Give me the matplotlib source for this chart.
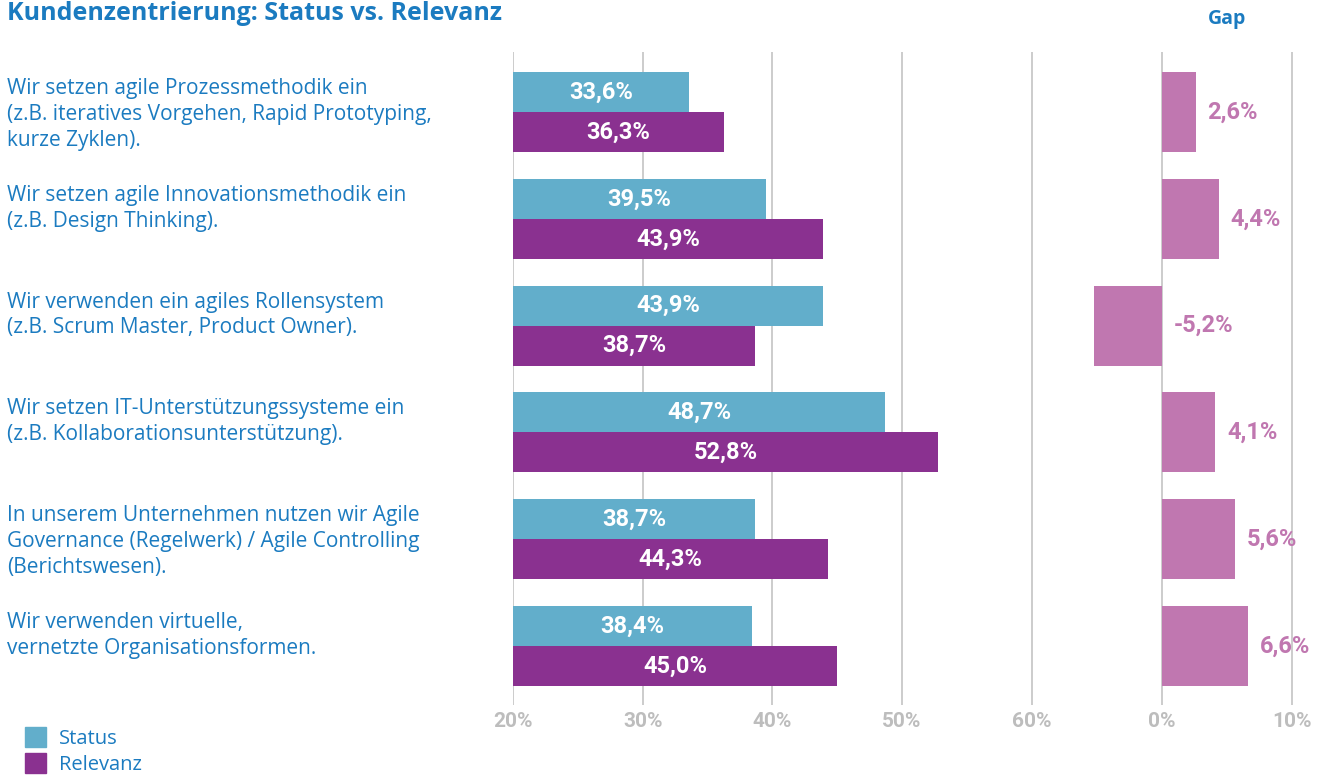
import matplotlib
matplotlib.use("Agg")
import matplotlib.pyplot as plt
from matplotlib.patches import Rectangle

plt.rcParams['font.family'] = ['Open Sans', 'DejaVu Sans']
NUM_FONT = ['Roboto', 'DejaVu Sans']

# --- data ---------------------------------------------------------------
categories = [
    "Wir setzen agile Prozessmethodik ein\n(z.B. iteratives Vorgehen, Rapid Prototyping,\nkurze Zyklen).",
    "Wir setzen agile Innovationsmethodik ein\n(z.B. Design Thinking).",
    "Wir verwenden ein agiles Rollensystem\n(z.B. Scrum Master, Product Owner).",
    "Wir setzen IT-Unterstützungssysteme ein\n(z.B. Kollaborationsunterstützung).",
    "In unserem Unternehmen nutzen wir Agile\nGovernance (Regelwerk) / Agile Controlling\n(Berichtswesen).",
    "Wir verwenden virtuelle,\nvernetzte Organisationsformen.",
]
status = [33.6, 39.5, 43.9, 48.7, 38.7, 38.4]
relevanz = [36.3, 43.9, 38.7, 52.8, 44.3, 45.0]
gap = [2.6, 4.4, -5.2, 4.1, 5.6, 6.6]
main_ticks = [20, 30, 40, 50, 60]
gap_ticks = [0, 10]

# --- styling ------------------------------------------------------------
C_STATUS = "#62AECB"
C_REL = "#8A3190"
C_GAP = "#C077B0"
C_TEXT = "#1B7BC0"
C_GRID = "#C8C8C8"
C_TICK = "#BDBDBD"

W, H = 1325, 776
fig = plt.figure(figsize=(W / 100, H / 100), dpi=100)


def fx(px):
    return px / W


def fy(py):
    return 1 - py / H


top_px, bot_px = 52, 705
ylim = (5.552, -0.562)
bar_h = 0.375


def fmt(v):
    return f"{v:.1f}".replace(".", ",") + "%"


# main comparison axis
ax = fig.add_axes([fx(513), fy(bot_px), fx(1038 - 513), (bot_px - top_px) / H])
ax.set_xlim(20, 60.5)
ax.set_ylim(*ylim)
ys = list(range(len(categories)))
ax.barh([y - bar_h / 2 for y in ys], status, height=bar_h, left=0, color=C_STATUS, zorder=3)
ax.barh([y + bar_h / 2 for y in ys], relevanz, height=bar_h, left=0, color=C_REL, zorder=3)
for y, s, r in zip(ys, status, relevanz):
    ax.text((20 + s) / 2, y - bar_h / 2, fmt(s), color="white", fontsize=17,
            family=NUM_FONT, fontweight="bold", ha="center", va="center", zorder=4)
    ax.text((20 + r) / 2, y + bar_h / 2, fmt(r), color="white", fontsize=17,
            family=NUM_FONT, fontweight="bold", ha="center", va="center", zorder=4)

# gap axis
gx = fig.add_axes([fx(1162 - 6 * 13), fy(bot_px), fx(16.5 * 13), (bot_px - top_px) / H])
gx.set_xlim(-6, 10.5)
gx.set_ylim(*ylim)
gx.barh(ys, gap, height=2 * bar_h, color=C_GAP, zorder=3)
for y, g in zip(ys, gap):
    gx.text(max(g, 0) + 0.9, y, fmt(g), color=C_GAP, fontsize=17, family=NUM_FONT,
            fontweight="bold", ha="left", va="center", zorder=4, clip_on=False)

for a, ticks in ((ax, main_ticks), (gx, gap_ticks)):
    a.set_xticks(ticks)
    a.set_xticklabels([f"{t}%" for t in ticks])
    a.set_yticks([])
    for sp in a.spines.values():
        sp.set_visible(False)
    a.grid(axis="x", color=C_GRID, linewidth=1.3, zorder=0)
    a.tick_params(axis="x", length=0, pad=5, labelsize=15, labelcolor=C_TICK)
    for lbl in a.get_xticklabels():
        lbl.set_fontweight("bold")
        lbl.set_family(NUM_FONT)
    a.set_facecolor("none")

# category labels
for y, cat in zip(ys, categories):
    ypx = top_px + (y - ylim[1]) * (bot_px - top_px) / (ylim[0] - ylim[1])
    fig.text(fx(7), fy(ypx - 34), cat, color=C_TEXT, fontsize=15,
             ha="left", va="top", linespacing=1.3)

# titles
fig.text(fx(7), fy(13), "Kundenzentrierung: Status vs. Relevanz", color=C_TEXT,
         fontsize=18, fontweight="bold", ha="left", va="center")
fig.text(fx(1227), fy(19), "Gap", color=C_TEXT, fontsize=14,
         fontweight="bold", ha="center", va="center")

# legend
for (label, col, ytop) in (("Status", C_STATUS, 727), ("Relevanz", C_REL, 753)):
    fig.patches.append(Rectangle((fx(25), fy(ytop + 20)), fx(21), 20 / H,
                                 transform=fig.transFigure, color=col))
    fig.text(fx(59), fy(ytop + 12), label, color=C_TEXT, fontsize=14.5,
             ha="left", va="center")

fig.savefig("out.png", dpi=100)
